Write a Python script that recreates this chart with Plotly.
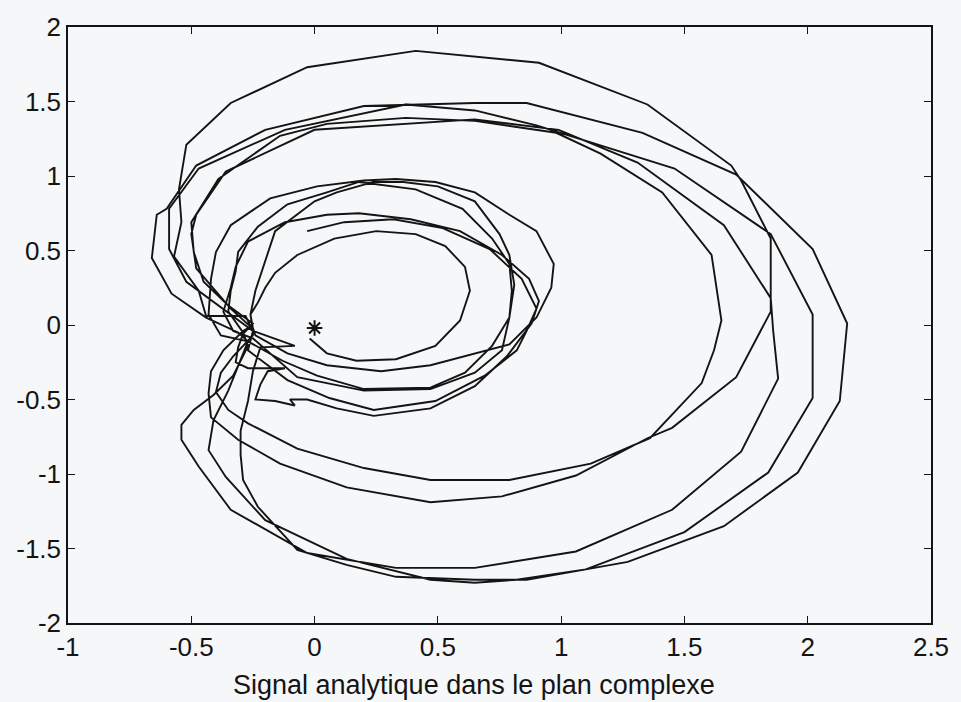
import plotly.graph_objects as go

# Trajectory of the analytic signal z(t) = x(t) + i*H[x](t) in the complex plane.
# Each segment is one revolution around the origin, listed as (Re, Im) samples.
loop_inner = [(-0.02, -0.09), (0.05, -0.19), (0.17, -0.24), (0.33, -0.23), (0.49, -0.14),
              (0.59, 0.03), (0.63, 0.23), (0.61, 0.39), (0.53, 0.53), (0.41, 0.61),
              (0.25, 0.63), (0.08, 0.58), (-0.07, 0.47), (-0.16, 0.35), (-0.20, 0.25),
              (-0.23, 0.15), (-0.26, 0.07), (-0.25, -0.02)]

loop_a = [(-0.24, -0.07), (-0.11, -0.19), (0.05, -0.27), (0.27, -0.31), (0.47, -0.27),
          (0.65, -0.19), (0.79, -0.13), (0.90, 0.05), (0.96, 0.25), (0.97, 0.41),
          (0.90, 0.63), (0.79, 0.74), (0.65, 0.89), (0.49, 0.96), (0.33, 0.98),
          (0.20, 0.97), (0.01, 0.93), (-0.18, 0.85), (-0.34, 0.67), (-0.40, 0.49),
          (-0.42, 0.31), (-0.43, 0.07), (-0.38, -0.07)]

loop_b = [(-0.27, -0.11), (-0.13, -0.24), (0.01, -0.34), (0.20, -0.43), (0.47, -0.42),
          (0.61, -0.32), (0.72, -0.14), (0.79, 0.05), (0.80, 0.23), (0.79, 0.41),
          (0.72, 0.58), (0.60, 0.78), (0.41, 0.91), (0.18, 0.96), (0.05, 0.89),
          (-0.11, 0.81), (-0.23, 0.66), (-0.31, 0.49), (-0.32, 0.36), (-0.34, 0.23),
          (-0.35, 0.09), (-0.29, -0.05)]

loop_d = [(-0.27, -0.14), (-0.33, -0.34), (-0.41, -0.47), (-0.49, -0.57), (-0.54, -0.67),
          (-0.54, -0.77), (-0.47, -0.95), (-0.34, -1.24), (-0.03, -1.53), (0.33, -1.63),
          (0.65, -1.63), (1.06, -1.52), (1.45, -1.24), (1.73, -0.85), (1.88, -0.36),
          (1.86, -0.04), (1.85, 0.18), (1.66, 0.67), (1.31, 1.09), (0.99, 1.31),
          (0.65, 1.38), (0.00, 1.31), (-0.36, 1.03), (-0.48, 0.74), (-0.50, 0.61),
          (-0.48, 0.38), (-0.34, 0.11), (-0.26, -0.01)]

loop_top = [(-0.29, -0.04), (-0.37, -0.17), (-0.42, -0.31), (-0.43, -0.46), (-0.42, -0.62),
            (-0.31, -0.77), (-0.14, -0.93), (0.13, -1.09), (0.47, -1.19), (0.76, -1.15),
            (1.06, -1.01), (1.35, -0.76), (1.45, -0.69), (1.71, -0.35), (1.85, 0.09),
            (1.85, 0.58), (1.73, 0.97), (1.69, 1.07), (1.35, 1.48), (0.91, 1.76),
            (0.41, 1.84), (-0.03, 1.73), (-0.34, 1.49), (-0.52, 1.21), (-0.55, 0.91),
            (-0.54, 0.69), (-0.57, 0.46), (-0.47, 0.23), (-0.44, 0.06), (-0.28, 0.06),
            (-0.25, -0.04)]

loop_wide = [(-0.08, -0.14), (-0.22, -0.15), (-0.25, -0.31), (-0.27, -0.51), (-0.30, -0.71),
             (-0.30, -0.87), (-0.29, -1.04), (-0.23, -1.22), (-0.07, -1.51), (0.13, -1.61),
             (0.33, -1.69), (0.65, -1.71), (0.86, -1.71), (1.10, -1.64), (1.27, -1.59),
             (1.66, -1.35), (1.96, -0.99), (2.13, -0.51), (2.16, 0.01), (2.02, 0.51),
             (1.71, 1.01), (1.33, 1.29), (0.86, 1.49), (0.65, 1.49), (0.20, 1.47),
             (-0.20, 1.31), (-0.48, 1.07), (-0.60, 0.78), (-0.64, 0.74), (-0.66, 0.45),
             (-0.58, 0.21), (-0.44, 0.05), (-0.31, -0.05)]

loop_c = [(-0.27, -0.11), (-0.31, -0.27), (-0.35, -0.44), (-0.41, -0.64), (-0.43, -0.84),
          (-0.36, -1.02), (-0.20, -1.31), (0.13, -1.57), (0.47, -1.71), (0.65, -1.73),
          (0.82, -1.71), (1.10, -1.64), (1.50, -1.39), (1.84, -0.99), (2.02, -0.49),
          (2.02, 0.07), (1.85, 0.61), (1.46, 1.05), (0.90, 1.34), (0.65, 1.44),
          (0.37, 1.48), (-0.12, 1.31), (-0.47, 1.05), (-0.59, 0.78), (-0.59, 0.51),
          (-0.52, 0.29), (-0.34, 0.07), (-0.25, -0.04)]

loop_e = [(-0.25, -0.07), (-0.33, -0.21), (-0.38, -0.32), (-0.40, -0.45), (-0.35, -0.57),
          (-0.27, -0.66), (-0.07, -0.83), (0.20, -0.96), (0.47, -1.04), (0.79, -1.04),
          (1.12, -0.93), (1.36, -0.76), (1.57, -0.39), (1.62, -0.17), (1.65, 0.03),
          (1.61, 0.47), (1.41, 0.89), (1.16, 1.15), (0.98, 1.29), (0.65, 1.37),
          (0.37, 1.39), (0.05, 1.35), (-0.14, 1.27), (-0.39, 0.98), (-0.50, 0.69),
          (-0.49, 0.49), (-0.45, 0.29), (-0.35, 0.13), (-0.25, 0.01)]

loop_f = [(-0.29, -0.06), (-0.31, -0.15), (-0.32, -0.25), (-0.27, -0.29), (-0.12, -0.29),
          (-0.19, -0.31), (-0.22, -0.40), (-0.24, -0.50), (-0.16, -0.51), (-0.08, -0.54),
          (-0.10, -0.50), (-0.03, -0.50), (0.09, -0.56), (0.24, -0.61), (0.47, -0.56),
          (0.65, -0.41), (0.78, -0.21), (0.88, 0.01), (0.91, 0.16), (0.87, 0.31),
          (0.76, 0.47), (0.59, 0.63), (0.39, 0.71), (0.18, 0.75), (0.05, 0.74),
          (-0.12, 0.69), (-0.27, 0.56), (-0.32, 0.39), (-0.34, 0.25), (-0.37, 0.09),
          (-0.33, -0.04)]

loop_g = [(-0.25, -0.09), (-0.07, -0.35), (0.20, -0.44), (0.47, -0.43), (0.65, -0.32),
          (0.76, -0.17), (0.79, 0.05), (0.81, 0.27), (0.79, 0.47), (0.75, 0.61),
          (0.65, 0.83), (0.50, 0.93), (0.36, 0.96), (0.24, 0.96), (0.09, 0.89),
          (0.00, 0.83), (-0.16, 0.63), (-0.20, 0.43), (-0.24, 0.23), (-0.26, 0.07),
          (-0.25, -0.04)]

loop_last = [(-0.27, -0.17), (-0.11, -0.37), (0.06, -0.49), (0.24, -0.57), (0.49, -0.51),
             (0.69, -0.34), (0.82, -0.17), (0.86, -0.04), (0.90, 0.11), (0.84, 0.31),
             (0.71, 0.51), (0.52, 0.65), (0.32, 0.71), (0.12, 0.69), (-0.03, 0.63)]

origin = (0.0, -0.02)

revolutions = [loop_inner, loop_a, loop_b, loop_d, loop_top, loop_wide,
               loop_c, loop_e, loop_f, loop_g, loop_last]

re_part, im_part = [], []
for rev in revolutions:
    for re_v, im_v in rev:
        re_part.append(re_v)
        im_part.append(im_v)

ink = "#141414"
family = "Liberation Sans, Arial, sans-serif"
tick_font = dict(family=family, size=26, color=ink)
title_font = dict(family=family, size=27, color=ink)

fig = go.Figure()
fig.add_trace(go.Scatter(x=re_part, y=im_part, mode="lines",
                         line=dict(color=ink, width=1.9), hoverinfo="skip"))
fig.add_trace(go.Scatter(x=[origin[0]], y=[origin[1]], mode="markers",
                         marker=dict(symbol="asterisk-open", size=13, color=ink,
                                     line=dict(color=ink, width=2))))

axis_common = dict(showgrid=False, zeroline=False, showline=True, linecolor=ink,
                   linewidth=1.5, mirror="ticks", ticks="inside", ticklen=7,
                   tickcolor=ink, tickwidth=1.3, tickfont=tick_font)

fig.update_xaxes(range=[-1, 2.5], tickvals=[-1, -0.5, 0, 0.5, 1, 1.5, 2, 2.5],
                 ticktext=["-1", "-0.5", "0", "0.5", "1", "1.5", "2", "2.5"],
                 **axis_common)
fig.update_yaxes(range=[-2, 2], tickvals=[-2, -1.5, -1, -0.5, 0, 0.5, 1, 1.5, 2],
                 ticktext=["-2", "-1.5", "-1", "-0.5", "0", "0.5", "1", "1.5", "2"],
                 **axis_common)

# x-axis caption, set slightly left of the axis centre
fig.add_annotation(text="Signal analytique dans le plan complexe", font=title_font,
                   xref="paper", yref="paper", x=0.47, y=-0.104,
                   xanchor="center", yanchor="middle", showarrow=False)

fig.update_layout(width=961, height=702, showlegend=False,
                  margin=dict(l=68, r=20, t=24, b=79),
                  paper_bgcolor="#f6f7f9", plot_bgcolor="#f6f7f9")

fig.write_html("out.html")
